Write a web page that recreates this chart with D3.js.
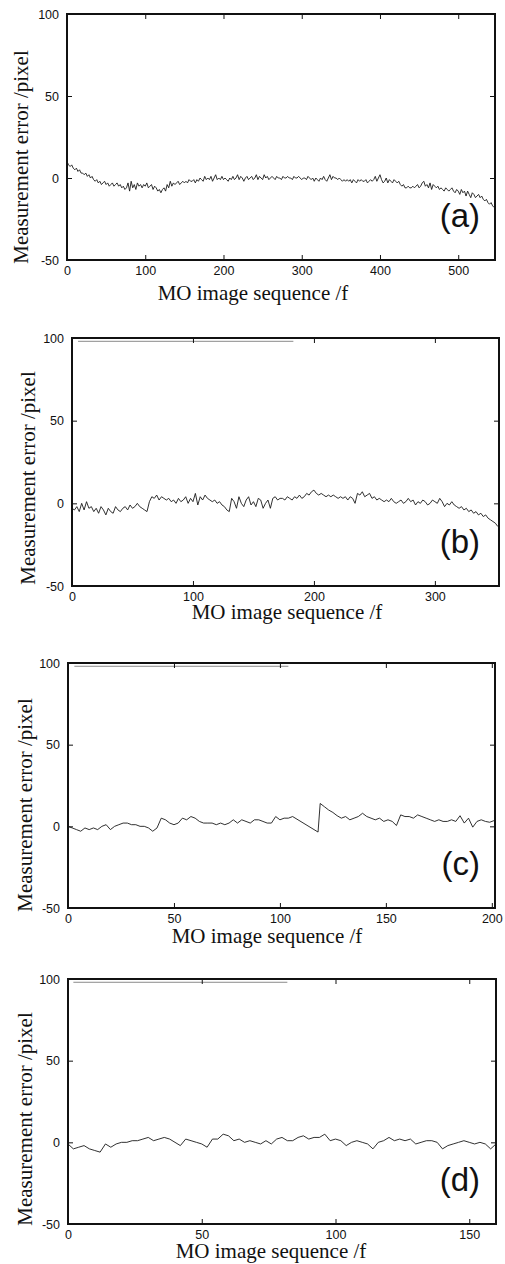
<!DOCTYPE html>
<html>
<head>
<meta charset="utf-8">
<script src="https://cdn.jsdelivr.net/npm/d3@7"></script>
<style>
  body { margin: 0; background: #fff; }
  .tick text { font-family: "Liberation Sans", Arial, Helvetica, sans-serif; font-size: 12.5px; fill: #111; }
  .tick line { stroke: #111; stroke-width: 1; }
  .lbl { font-family: "Liberation Serif", "Times New Roman", serif; font-size: 21px; fill: #111; }
  .tag { font-family: "Liberation Sans", Arial, Helvetica, sans-serif; font-size: 33px; fill: #111; }
</style>
</head>
<body>
<div id="chart"></div>
<script>
// Shared axis text and ticks
const yLabelText = "Measurement error /pixel";
const xLabelText = "MO image sequence /f";
const yTicks = [-50, 0, 50, 100];

// (a) 0..546, every 2nd frame
const framesA = d3.range(0, 547, 2);
const valuesA = [
    10, 8, 7, 8, 6, 5, 6, 4, 5, 3,
    3, 2, 3, 1, 2, 0, 1, -1, -2, -1,
    -3, -2, -4, -3, -2, -4, -3, -5, -4, -3,
    -5, -4, -3, -5, -4, -6, -5, -7, -6, -3,
    -8, -2, -6, -4, -7, -3, -5, -4, -6, -4,
    -5, -3, -6, -5, -4, -7, -5, -6, -8, -7,
    -9, -7, -6, -8, -4, -6, -2, -5, -3, -4,
    -3, -2, -4, -3, -2, -3, -2, -3, -1, -2,
    -2, -1, -3, -1, -2, 0, -1, -2, 1, -1,
    0, -1, 1, -2, 0, 2, -1, 0, -1, 1,
    -1, 0, -1, -2, 0, -1, 1, -1, 0, 2,
    -1, 1, 0, -2, 0, 1, -1, 0, 1, -1,
    0, 2, -1, 1, 0, -1, 2, 0, 1, -1,
    0, 1, 0, -1, 1, 0, 0, -1, 1, 0,
    0, 1, 0, 0, -1, 1, 0, 0, 1, 0,
    -1, 0, 0, -1, 1, 0, -1, 0, -2, 0,
    -1, -2, 0, -1, 1, -1, -2, 0, 2, -1,
    1, 0, 0, -1, 0, -1, -2, -1, -2, -1,
    -2, -1, -3, -1, -2, -3, -1, -2, -1, -2,
    -2, -1, -3, -2, -1, -2, -1, 1, -2, 0,
    2, -1, -3, -2, 0, -3, -1, -2, -3, -1,
    -2, -3, -2, -4, -5, -4, -6, -6, -5, -6,
    -6, -5, -6, -5, -4, -6, -5, -3, -2, -5,
    -4, -6, -3, -7, -4, -5, -6, -5, -7, -6,
    -7, -8, -6, -7, -8, -7, -6, -8, -9, -7,
    -8, -10, -7, -9, -8, -11, -8, -10, -12, -9,
    -10, -12, -11, -10, -12, -11, -13, -14, -13, -15,
    -16, -15, -17, -18
];
const xTicksA = [0, 100, 200, 300, 400, 500];

// (b) 0..352, every 2nd frame
const framesB = d3.range(0, 353, 2);
const valuesB = [
    -3, -4, -2, -5, 0, -4, 1, -3, -2, -5,
    -3, -6, -2, -4, -7, -3, -5, -6, -2, -4,
    -5, -3, -2, -4, -1, -3, -2, 0, -2, -3,
    -4, -5, 1, 4, 3, 5, 2, 4, 3, 2,
    3, 1, 2, 0, 3, 1, 2, 4, 0, 3,
    1, 6, -1, 4, 2, 5, 3, 2, 1, 2,
    0, 1, -1, -2, -4, -5, 3, 1, -3, 4,
    0, -2, 2, 4, -1, 1, -2, 3, 2, -3,
    0, 2, -3, 3, 4, 2, 3, 3, 2, 4,
    3, 2, 4, 3, 5, 3, 4, 6, 5, 7,
    8, 6, 5, 6, 5, 4, 5, 4, 5, 4,
    3, 4, 3, 4, 2, 4, 3, 0, 6, 5,
    7, 4, 5, 6, 3, 4, 2, 3, 2, 1,
    2, 1, 3, 1, 0, 1, 2, 0, 1, 3,
    1, 2, -1, 1, 0, 2, 1, -1, 0, 2,
    1, 0, 3, 1, -2, 0, -1, 1, -1, -2,
    -3, -2, -4, -3, -5, -4, -6, -5, -7, -6,
    -8, -7, -9, -10, -11, -12, -14
];
const xTicksB = [0, 100, 200, 300];
const legendSpanB = [5, 183];

// (c) 0..201, with the jump near frame 119
const framesC = d3.range(0, 107, 2).concat([118, 119], d3.range(121, 202, 2));
const valuesC = [
    0, -1, -2, -3, -1, -2, -1, -2, 0, 1,
    -2, 0, 1, 2, 2, 1, 1, 0, 0, -1,
    -3, -1, 5, 4, 2, 1, 2, 5, 4, 6,
    5, 3, 2, 2, 2, 1, 2, 1, 2, 4,
    2, 4, 3, 2, 4, 4, 3, 2, 2, 6,
    4, 5, 5, 6,
    -3.5,
    14,
    12, 10, 8.5, 6.5, 5, 6, 4, 5, 6,
    8, 6, 5, 4, 5, 3, 4, 3, 0.5, 7,
    6, 6, 5, 7, 6, 5, 4, 3, 4, 3,
    3, 4, 3, 6.5, 2, 5, -0.5, 3, 4, 3, 2.5,
    3.5
];
const xTicksC = [0, 50, 100, 150, 200];
const legendSpanC = [3, 104];

// (d) 0..160, every 2nd frame
const framesD = d3.range(0, 161, 2);
const valuesD = [
    -1, -4, -3, -2, -4, -5, -6, -1, -3, -1,
    0, 0, 1, 1, 2, 3, 1, 2, 3, 2,
    0, -2, 2, 1, 0, -1, -3, 2, 2, 5,
    4, 1, 2, 0, 1, 0, -1, 1, -1, 2,
    3, 1, 1, 3, 4, 2, 3, 3, 5, 1,
    2, 1, -2, 0, 1, 0, -1, -4, 0, 1,
    3, 1, 2, 1, 2, -1, 0, 1, 1, 0,
    -4, -2, -1, 0, 1, 0, -1, 0, -1, -4,
    -1
];
const xTicksD = [0, 50, 100, 150];
const legendSpanD = [2, 82];

const legendLevel = 98;

// Layout of the four stacked panels
const panels = [
    { tag: "(a)", frames: framesA, values: valuesA, xMax: 547, xTicks: xTicksA, legend: null,
      left: 67, right: 495, top: 14, bottom: 260, xLabelX: 253, xLabelY: 300, yLabelX: 28, yLabelY: 157 },
    { tag: "(b)", frames: framesB, values: valuesB, xMax: 353, xTicks: xTicksB, legend: legendSpanB,
      left: 72, right: 499, top: 338, bottom: 586, xLabelX: 287, xLabelY: 619, yLabelX: 35, yLabelY: 478 },
    { tag: "(c)", frames: framesC, values: valuesC, xMax: 201.5, xTicks: xTicksC, legend: legendSpanC,
      left: 68, right: 495, top: 663, bottom: 908, xLabelX: 267, xLabelY: 943, yLabelX: 32, yLabelY: 805 },
    { tag: "(d)", frames: framesD, values: valuesD, xMax: 160, xTicks: xTicksD, legend: legendSpanD,
      left: 68, right: 496, top: 979, bottom: 1224, xLabelX: 271, xLabelY: 1258, yLabelX: 32, yLabelY: 1119 }
];

const svg = d3.select("#chart")
    .append("svg")
    .attr("width", 505)
    .attr("height", 1264);

panels.forEach(p => {
    const x = d3.scaleLinear().domain([0, p.xMax]).range([p.left, p.right]);
    const y = d3.scaleLinear().domain([-50, 100]).range([p.bottom, p.top]);
    const g = svg.append("g");

    // Data line
    const pts = p.frames.map((f, i) => [f, p.values[i]]);
    g.append("path")
        .datum(pts)
        .attr("fill", "none")
        .attr("stroke", "#1a1a1a")
        .attr("stroke-width", 0.9)
        .attr("d", d3.line().x(d => x(d[0])).y(d => y(d[1])));

    // Leftover legend stroke near the top
    if (p.legend) {
        g.append("line")
            .attr("x1", x(p.legend[0]))
            .attr("x2", x(p.legend[1]))
            .attr("y1", y(legendLevel))
            .attr("y2", y(legendLevel))
            .attr("stroke", "#8a8a8a")
            .attr("stroke-width", 1);
    }

    // Axes, ticks pointing inward on all sides
    g.append("g")
        .attr("transform", `translate(0,${p.bottom})`)
        .call(d3.axisBottom(x).tickValues(p.xTicks).tickSizeInner(-5).tickSizeOuter(0).tickPadding(6).tickFormat(d => String(d)))
        .call(a => a.select(".domain").remove());
    g.append("g")
        .attr("transform", `translate(0,${p.top})`)
        .call(d3.axisTop(x).tickValues(p.xTicks).tickSizeInner(-5).tickSizeOuter(0).tickFormat(""))
        .call(a => a.select(".domain").remove());
    g.append("g")
        .attr("transform", `translate(${p.left},0)`)
        .call(d3.axisLeft(y).tickValues(yTicks).tickSizeInner(-5).tickSizeOuter(0).tickPadding(8).tickFormat(d => String(d)))
        .call(a => a.select(".domain").remove());
    g.append("g")
        .attr("transform", `translate(${p.right},0)`)
        .call(d3.axisRight(y).tickValues(yTicks).tickSizeInner(-5).tickSizeOuter(0).tickFormat(""))
        .call(a => a.select(".domain").remove());

    // Frame
    g.append("rect")
        .attr("x", p.left)
        .attr("y", p.top)
        .attr("width", p.right - p.left)
        .attr("height", p.bottom - p.top)
        .attr("fill", "none")
        .attr("stroke", "#111")
        .attr("stroke-width", 2);

    // Labels
    g.append("text")
        .attr("class", "lbl")
        .attr("x", p.xLabelX)
        .attr("y", p.xLabelY)
        .attr("text-anchor", "middle")
        .text(xLabelText);

    g.append("text")
        .attr("class", "lbl")
        .attr("transform", `translate(${p.yLabelX},${p.yLabelY}) rotate(-90)`)
        .attr("text-anchor", "middle")
        .text(yLabelText);

    g.append("text")
        .attr("class", "tag")
        .attr("x", 480)
        .attr("y", p.bottom - 33)
        .attr("text-anchor", "end")
        .text(p.tag);
});
</script>
</body>
</html>
